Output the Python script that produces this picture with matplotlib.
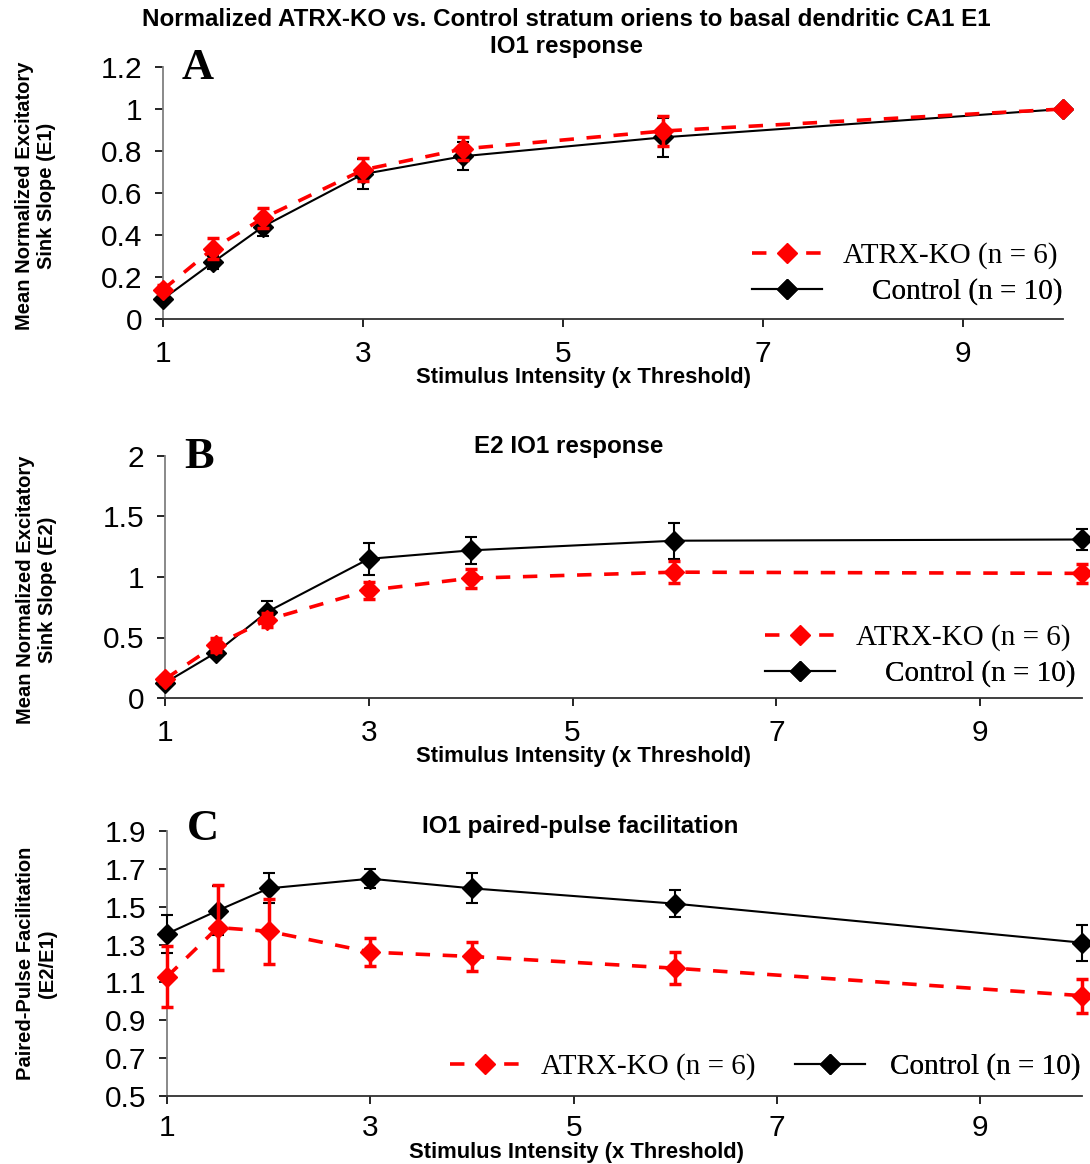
import numpy as np
import matplotlib.pyplot as plt

# ---------------------------------------------------
# Data
# ---------------------------------------------------
intensity = [1, 1.5, 2, 3, 4, 6, 10]

e1_ko = [0.14, 0.335, 0.48, 0.71, 0.81, 0.895, 1.0]
e1_ko_err = [0.02, 0.05, 0.047, 0.055, 0.055, 0.07, 0.0]
e1_ctl = [0.095, 0.27, 0.44, 0.69, 0.775, 0.865, 1.0]
e1_ctl_err = [0.012, 0.03, 0.045, 0.07, 0.067, 0.093, 0.0]

e2_ko = [0.155, 0.44, 0.645, 0.89, 0.99, 1.04, 1.03]
e2_ko_err = [0.03, 0.06, 0.06, 0.07, 0.08, 0.09, 0.08]
e2_ctl = [0.125, 0.375, 0.71, 1.15, 1.22, 1.30, 1.31]
e2_ctl_err = [0.02, 0.04, 0.09, 0.135, 0.11, 0.15, 0.09]

ppf_ko = [1.13, 1.39, 1.37, 1.26, 1.237, 1.175, 1.03]
ppf_ko_err = [0.16, 0.225, 0.17, 0.075, 0.075, 0.085, 0.09]
ppf_ctl = [1.357, 1.48, 1.597, 1.648, 1.597, 1.516, 1.31]
ppf_ctl_err = [0.10, 0.13, 0.08, 0.05, 0.08, 0.07, 0.095]

ko_label = "ATRX-KO (n = 6)"
ctl_label = "Control (n = 10)"

W, H = 1090, 1164
fig = plt.figure(figsize=(W / 100, H / 100), dpi=100)


def fx(px):
    return px / W


def fy(py):
    return 1 - py / H


def panel(rect, ko, ko_err, ctl, ctl_err, yticks, ylabels, ylim):
    ax = fig.add_axes(rect)
    ax.errorbar(intensity, ctl, yerr=ctl_err, color="black", lw=1.5,
                marker="D", ms=10, elinewidth=1.5, capsize=4, capthick=1.5,
                clip_on=False, zorder=3)
    ax.errorbar(intensity, ko, yerr=ko_err, color="#FF0000", lw=2.6,
                ls=(0, (4, 3.5)), marker="D", ms=10, elinewidth=2.5,
                capsize=4, capthick=2.5, clip_on=False, zorder=4)
    ax.set_xlim(1, 10)
    ax.set_ylim(*ylim)
    ax.set_xticks([1, 3, 5, 7, 9])
    ax.set_yticks(yticks)
    ax.set_yticklabels(ylabels)
    ax.spines["top"].set_visible(False)
    ax.spines["right"].set_visible(False)
    ax.spines["left"].set_color("#808080")
    ax.spines["bottom"].set_color("#303030")
    ax.spines["left"].set_linewidth(1.3)
    ax.spines["bottom"].set_linewidth(1.3)
    ax.tick_params(direction="out", length=6, width=1.2, labelsize=21.5,
                   pad=9)
    for t in ax.get_xticklabels() + ax.get_yticklabels():
        t.set_family("Liberation Sans")
    return ax


def legend_entry(ax, handle, label, x, y, pad):
    leg = ax.legend([handle], [label], loc="center left",
                    bbox_to_anchor=(fx(x), fy(y)),
                    bbox_transform=fig.transFigure, frameon=False,
                    borderpad=0, borderaxespad=0, handlelength=2.4,
                    handletextpad=pad, numpoints=1,
                    prop={"family": "Liberation Serif", "size": 21})
    ax.add_artist(leg)


ybold = {"family": "Liberation Sans", "weight": "bold", "size": 14.5}
xbold = {"family": "Liberation Sans", "weight": "bold", "size": 15.8}
tbold = {"family": "Liberation Sans", "weight": "bold", "size": 17.4}

# ---------------- Panel A ----------------
axA = panel([fx(163), fy(319), fx(900), (319 - 67) / H],
            e1_ko, e1_ko_err, e1_ctl, e1_ctl_err,
            [0, 0.2, 0.4, 0.6, 0.8, 1.0, 1.2],
            ["0", "0.2", "0.4", "0.6", "0.8", "1", "1.2"], (0, 1.2))
axA.set_ylabel("Mean Normalized Excitatory\nSink Slope (E1)", **ybold)
axA.yaxis.set_label_coords(-0.119, 0.49)
axA.set_xlabel("Stimulus Intensity (x Threshold)", **xbold)
axA.xaxis.set_label_coords(0.467, -0.19)

# ---------------- Panel B ----------------
axB = panel([fx(165), fy(698), fx(917), (698 - 456) / H],
            e2_ko, e2_ko_err, e2_ctl, e2_ctl_err,
            [0, 0.5, 1.0, 1.5, 2.0], ["0", "0.5", "1", "1.5", "2"], (0, 2))
axB.set_ylabel("Mean Normalized Excitatory\nSink Slope (E2)", **ybold)
axB.yaxis.set_label_coords(-0.118, 0.446)
axB.set_xlabel("Stimulus Intensity (x Threshold)", **xbold)
axB.xaxis.set_label_coords(0.456, -0.2)

# ---------------- Panel C ----------------
axC = panel([fx(167), fy(1096), fx(915), (1096 - 831) / H],
            ppf_ko, ppf_ko_err, ppf_ctl, ppf_ctl_err,
            [0.5, 0.7, 0.9, 1.1, 1.3, 1.5, 1.7, 1.9],
            ["0.5", "0.7", "0.9", "1.1", "1.3", "1.5", "1.7", "1.9"],
            (0.5, 1.9))
axC.tick_params(axis="x", pad=7)
axC.set_ylabel("Paired-Pulse Facilitation\n(E2/E1)", **ybold)
axC.yaxis.set_label_coords(-0.12, 0.5)
axC.set_xlabel("Stimulus Intensity (x Threshold)", **xbold)
axC.xaxis.set_label_coords(0.448, -0.172)

# legends
h_ko = plt.Line2D([], [], color="#FF0000", lw=2.6, ls=(0, (4, 3.5)),
                  marker="D", ms=10)
h_ctl = plt.Line2D([], [], color="black", lw=1.5, marker="D", ms=10)

legend_entry(axA, h_ko, ko_label, 752, 256, 0.72)
legend_entry(axA, h_ctl, ctl_label, 752, 292, 1.72)
legend_entry(axB, h_ko, ko_label, 765, 638, 0.72)
legend_entry(axB, h_ctl, ctl_label, 765, 674, 1.72)
legend_entry(axC, h_ko, ko_label, 450, 1067, 0.72)
legend_entry(axC, h_ctl, ctl_label, 795, 1067, 0.86)

# titles and panel letters
fig.text(fx(566), fy(20),
         "Normalized ATRX-KO vs. Control stratum oriens to basal dendritic CA1 E1",
         ha="center", va="center", **tbold)
fig.text(fx(566), fy(47), "IO1 response", ha="center", va="center", **tbold)
fig.text(fx(569), fy(446), "E2 IO1 response", ha="center", va="center", **tbold)
fig.text(fx(580), fy(826), "IO1 paired-pulse facilitation", ha="center",
         va="center", **tbold)

letter = {"family": "Liberation Serif", "weight": "bold", "size": 32}
fig.text(fx(182), fy(68), "A", ha="left", va="center", **letter)
fig.text(fx(184), fy(457), "B", ha="left", va="center", **letter)
fig.text(fx(187), fy(829), "C", ha="left", va="center", **letter)

fig.savefig("out.png", dpi=100)
